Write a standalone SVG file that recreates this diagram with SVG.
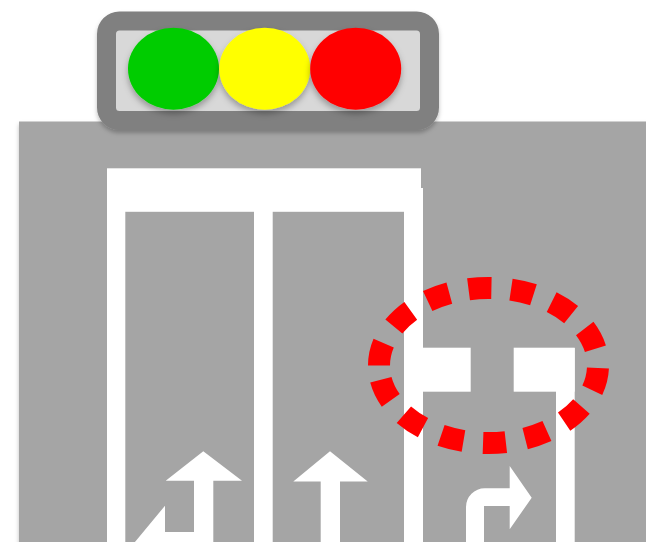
<svg xmlns="http://www.w3.org/2000/svg" width="646" height="542" viewBox="0 0 646 542">
  <defs>
    <style>
      .mark { fill: #ffffff; }
      .lamp { filter: url(#lampshadow); }
    </style>
    <filter id="shadow" x="-20%" y="-20%" width="140%" height="140%">
      <feDropShadow dx="0" dy="3" stdDeviation="2" flood-color="#000000" flood-opacity="0.25"/>
    </filter>
    <filter id="lampshadow" x="-20%" y="-20%" width="140%" height="140%">
      <feDropShadow dx="0" dy="4" stdDeviation="3" flood-color="#000000" flood-opacity="0.3"/>
    </filter>
  </defs>
  <rect width="646" height="542" fill="#ffffff"/>
  <g id="road">
    <rect x="19" y="121.5" width="640" height="440" fill="#a5a5a5" filter="url(#shadow)"/>
  </g>
  <g id="markings">
    <rect class="mark" x="107" y="168.3" width="314" height="43.5"/>
    <rect class="mark" x="107" y="188" width="18.3" height="360"/>
    <rect class="mark" x="254" y="188" width="18.7" height="360"/>
    <rect class="mark" x="404" y="188" width="19" height="360"/>
    <rect class="mark" x="556" y="348" width="18.7" height="200"/>
    <rect class="mark" x="404" y="347.7" width="66.7" height="44"/>
    <rect class="mark" x="513.7" y="347.7" width="61" height="44"/>
  </g>
  <g id="arrow-left-straight">
    <path class="mark" d="M203.3 451.3L242 480.7H213.3V548H130L165 505.7V532H194V480.7H165.7Z"/>
  </g>
  <g id="arrow-straight">
    <path class="mark" d="M330 451.3L367.7 481.5H340V548H320.7V481.5H293.3Z"/>
  </g>
  <g id="arrow-right">
    <path class="mark" d="M466 548V507A18.7 18.7 0 0 1 484.7 488.3H509.7V466L531.7 497.7L509.7 529.3V506H484V548Z"/>
  </g>
  <g id="highlight">
    <path d="M379 365.5A109.5 77.5 0 1 1 598 365.5A109.5 77.5 0 1 1 379 365.5Z" fill="none" stroke="#ff0000" stroke-width="22" stroke-dasharray="23 19.6"/>
  </g>
  <g id="traffic-light">
    <rect x="106.5" y="21" width="323" height="99.5" rx="13" ry="13" fill="#d8d8d8" stroke="#808080" stroke-width="19" filter="url(#shadow)"/>
    <ellipse class="lamp" cx="173.5" cy="68.7" rx="45.5" ry="41" fill="#00cc00"/>
    <ellipse class="lamp" cx="264.7" cy="68.7" rx="45.5" ry="41" fill="#ffff00"/>
    <ellipse class="lamp" cx="355.7" cy="68.7" rx="45.5" ry="41" fill="#ff0000"/>
  </g>
</svg>
